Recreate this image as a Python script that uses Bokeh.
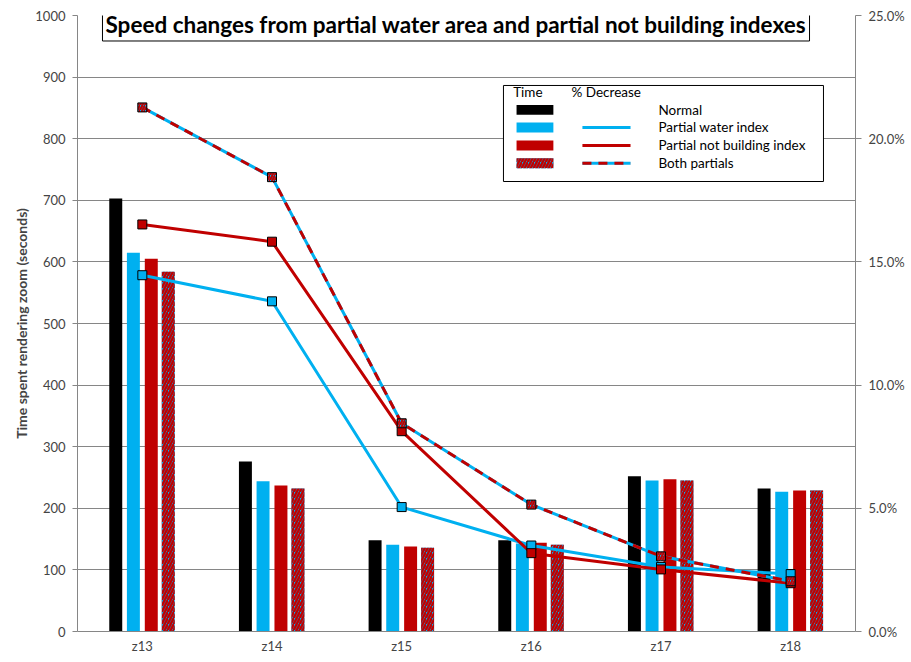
from bokeh.plotting import figure
from bokeh.models import (FactorRange, Range1d, LinearAxis, NumeralTickFormatter,
                          FixedTicker, Label, ColumnDataSource)
from bokeh.transform import dodge
from bokeh.core.properties import value
from bokeh.embed import file_html
from bokeh.resources import INLINE

# ---- data ----
categories = ["z13", "z14", "z15", "z16", "z17", "z18"]
time_normal = [703, 276, 148, 148, 252, 232]
time_water = [615, 244, 141, 143, 245, 227]
time_notbuilding = [605, 237, 138, 144, 247, 229]
time_both = [584, 232, 136, 141, 245, 229]
pct_water = [0.1446, 0.1340, 0.0505, 0.0349, 0.0262, 0.0233]
pct_notbuilding = [0.1652, 0.1582, 0.0813, 0.0318, 0.0252, 0.0196]
pct_both = [0.2127, 0.1844, 0.0845, 0.0515, 0.0305, 0.0204]
left_ticks = [0, 100, 200, 300, 400, 500, 600, 700, 800, 900, 1000]
right_ticks = [0.0, 0.05, 0.10, 0.15, 0.20, 0.25]
series_names = ["Normal", "Partial water index", "Partial not building index", "Both partials"]
title_text = "Speed changes from partial water area and partial not building indexes"

BLACK = "#000000"
BLUE = "#00B0F0"
RED = "#C00000"
GRAY = "#868686"
FONT = "Lato"

src = ColumnDataSource(dict(cat=categories, normal=time_normal, water=time_water,
                            notb=time_notbuilding, both=time_both,
                            pw=pct_water, pn=pct_notbuilding, pb=pct_both))

p = figure(x_range=FactorRange(factors=categories), y_range=Range1d(0, 1000),
           frame_width=778, frame_height=616, output_backend="svg", toolbar_location=None,
           min_border_left=77, min_border_right=56, min_border_top=15, min_border_bottom=31)
p.outline_line_color = None
p.background_fill_color = "white"
p.border_fill_color = "white"
p.extra_y_ranges = {"pct": Range1d(0, 0.25)}

# left axis
ya = p.yaxis[0]
ya.ticker = FixedTicker(ticks=left_ticks)
ya.axis_label = "Time spent rendering zoom (seconds)"
ya.axis_label_text_font = FONT
ya.axis_label_text_font_style = "bold"
ya.axis_label_text_font_size = "14px"
ya.axis_label_standoff = 2
ya.major_label_text_font = FONT
ya.major_label_text_font_size = "13px"
ya.major_label_standoff = 7
ya.axis_line_color = GRAY
ya.major_tick_line_color = GRAY
ya.major_tick_out = 5
ya.major_tick_in = 0
ya.minor_tick_line_color = None

# right axis
ra = LinearAxis(y_range_name="pct", ticker=FixedTicker(ticks=right_ticks),
                formatter=NumeralTickFormatter(format="0.0%"))
ra.major_label_text_font = FONT
ra.major_label_text_font_size = "13px"
ra.major_label_standoff = 7
ra.axis_line_color = GRAY
ra.major_tick_line_color = GRAY
ra.major_tick_out = 6
ra.major_tick_in = 0
ra.minor_tick_line_color = None
p.add_layout(ra, "right")

# x axis
xa = p.xaxis[0]
xa.major_label_text_font = FONT
xa.major_label_text_font_size = "13px"
xa.major_label_standoff = 6
xa.axis_line_color = GRAY
xa.major_tick_line_color = None
xa.major_tick_out = 0
xa.major_tick_in = 0
xa.minor_tick_line_color = None

p.xgrid.visible = False
p.ygrid.ticker = FixedTicker(ticks=left_ticks)
p.ygrid.grid_line_color = GRAY
p.ygrid.grid_line_width = 1

# bars
bw = 0.1
p.vbar(x=dodge("cat", -0.205, range=p.x_range), top="normal", width=bw, source=src,
       fill_color=BLACK, line_color=None)
p.vbar(x=dodge("cat", -0.069, range=p.x_range), top="water", width=bw, source=src,
       fill_color=BLUE, line_color=None)
p.vbar(x=dodge("cat", 0.069, range=p.x_range), top="notb", width=bw, source=src,
       fill_color=RED, line_color=None)
p.vbar(x=dodge("cat", 0.2, range=p.x_range), top="both", width=bw, source=src,
       fill_color=BLUE, line_color=None, hatch_pattern="/", hatch_color=RED,
       hatch_scale=6, hatch_weight=2.4)

# lines
p.line(x="cat", y="pw", y_range_name="pct", source=src, line_color=BLUE, line_width=3)
p.line(x="cat", y="pn", y_range_name="pct", source=src, line_color=RED, line_width=3)
p.line(x="cat", y="pb", y_range_name="pct", source=src, line_color=BLUE, line_width=3)
p.line(x="cat", y="pb", y_range_name="pct", source=src, line_color=RED, line_width=3,
       line_dash="9 7")
p.scatter(x="cat", y="pw", y_range_name="pct", source=src, marker="square", size=9,
          fill_color=BLUE, line_color=BLACK, line_width=1)
p.scatter(x="cat", y="pn", y_range_name="pct", source=src, marker="square", size=9,
          fill_color=RED, line_color=BLACK, line_width=1)
p.scatter(x="cat", y="pb", y_range_name="pct", source=src, marker="square", size=9,
          fill_color=BLUE, line_color=BLACK, line_width=1, hatch_pattern="/",
          hatch_color=RED, hatch_scale=5, hatch_weight=2)

# legend (drawn manually, positions in synthetic x / left-axis units)
p.quad(left=[3.285], right=[5.753], bottom=[730.5], top=[886.4],
       fill_color="white", line_color=BLACK, line_width=1)
row_y = [846.9, 818.2, 789.0, 760.1]
sw_half_h = 8.0
p.text(x=[3.36, 3.81], y=[875.5, 875.5], text=["Time", "% Decrease"],
       text_font=value(FONT), text_font_size=value("13.5px"), text_baseline="middle",
       text_color=BLACK)
p.quad(left=[3.528 - 0.142] * 3, right=[3.528 + 0.142] * 3,
       bottom=[y - sw_half_h for y in row_y[:3]], top=[y + sw_half_h for y in row_y[:3]],
       fill_color=[BLACK, BLUE, RED], line_color=None)
p.quad(left=[3.528 - 0.142], right=[3.528 + 0.142],
       bottom=[row_y[3] - sw_half_h], top=[row_y[3] + sw_half_h],
       fill_color=BLUE, line_color=None, hatch_pattern="/", hatch_color=RED,
       hatch_scale=6, hatch_weight=2.4)
p.segment(x0=[3.894] * 3, x1=[4.265] * 3, y0=row_y[1:], y1=row_y[1:],
          line_color=[BLUE, RED, BLUE], line_width=3)
p.segment(x0=[3.894], x1=[4.265], y0=[row_y[3]], y1=[row_y[3]],
          line_color=RED, line_width=3, line_dash="9 7")
p.text(x=[4.48] * 4, y=row_y, text=series_names, text_font=value(FONT),
       text_font_size=value("13.5px"), text_baseline="middle", text_color=BLACK)

# title box
title = Label(x=2.919, y=985.4, text=title_text, text_align="center",
              text_baseline="middle", text_font=FONT, text_font_style="bold",
              text_font_size="22.5px", text_color=BLACK, border_line_color=BLACK,
              border_line_width=1, background_fill_color="white", padding=3)
p.add_layout(title)

open("out.html", "w").write(file_html(p, INLINE))
